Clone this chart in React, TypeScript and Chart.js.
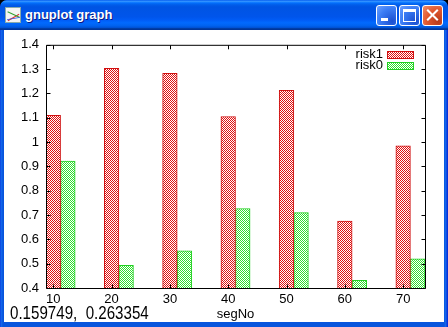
import React, { useEffect, useRef } from "react";
import { Chart, registerables } from "chart.js";

Chart.register(...registerables);

// ---- data ----
const categories = [10, 20, 30, 40, 50, 60, 70];
const risk1 = [1.11, 1.303, 1.283, 1.105, 1.213, 0.675, 0.985];
const risk0 = [0.922, 0.493, 0.553, 0.727, 0.71, 0.432, 0.52];
const seriesLabels = ["risk1", "risk0"];
const yTicks = [0.4, 0.5, 0.6, 0.7, 0.8, 0.9, 1.0, 1.1, 1.2, 1.3, 1.4];
const boxWidth = 2.5;
const xTitle = "segNo";
const windowTitle = "gnuplot graph";
const statusText = "0.159749,  0.263354";

const RED = "#e01010";
const GREEN = "#30e030";
const RED_BORDER = "#d01010";
const GREEN_BORDER = "#20d020";
const FONT = "'Liberation Sans', Arial, sans-serif";

function makePattern(ctx: CanvasRenderingContext2D, color: string) {
  const c = document.createElement("canvas");
  c.width = 2;
  c.height = 2;
  const g = c.getContext("2d")!;
  g.fillStyle = "#ffffff";
  g.fillRect(0, 0, 2, 2);
  g.fillStyle = color;
  g.fillRect(0, 0, 1, 1);
  g.fillRect(1, 1, 1, 1);
  return ctx.createPattern(c, "repeat")!;
}

const framePlugin = {
  id: "gnuframe",
  afterDatasetsDraw(chart: any) {
    const { ctx, chartArea: a } = chart;
    const xs = chart.scales.x;
    const ys = chart.scales.y;
    const TL = 4;
    ctx.save();
    ctx.strokeStyle = "#000";
    ctx.lineWidth = 1;
    const L = a.left + 0.5;
    const R = a.right + 0.5;
    const T = a.top + 0.5;
    const B = a.bottom + 0.5;
    ctx.beginPath();
    ctx.rect(L, T, R - L, B - T);
    categories.forEach((v) => {
      const px = Math.round(xs.getPixelForValue(v)) + 0.5;
      ctx.moveTo(px, B);
      ctx.lineTo(px, B - TL);
      ctx.moveTo(px, T);
      ctx.lineTo(px, T + TL);
    });
    yTicks.forEach((v) => {
      const py = Math.round(ys.getPixelForValue(v)) + 0.5;
      ctx.moveTo(L, py);
      ctx.lineTo(L + TL, py);
      ctx.moveTo(R, py);
      ctx.lineTo(R - TL, py);
    });
    ctx.stroke();

    // legend (top right, inside)
    ctx.font = `13px ${FONT}`;
    ctx.textAlign = "right";
    ctx.textBaseline = "middle";
    chart.data.datasets.forEach((ds: any, i: number) => {
      const cy = a.top + 10 + i * 11;
      ctx.fillStyle = "#000";
      ctx.fillText(ds.label, a.right - 42, cy);
      const bx = a.right - 38;
      const bw = 27;
      const by = Math.round(cy - 4);
      ctx.fillStyle = ds.backgroundColor;
      ctx.fillRect(bx, by, bw, 7);
      ctx.strokeStyle = ds.borderColor;
      ctx.strokeRect(bx + 0.5, by + 0.5, bw - 1, 7);
    });
    ctx.restore();
  },
};

function GnuplotChart() {
  const ref = useRef<HTMLCanvasElement>(null);
  useEffect(() => {
    const canvas = ref.current!;
    const ctx = canvas.getContext("2d")!;
    const redPat = makePattern(ctx, RED);
    const greenPat = makePattern(ctx, GREEN);
    const chart = new Chart(canvas, {
      type: "bar",
      data: {
        datasets: [
          {
            label: seriesLabels[0],
            data: categories.map((c, i) => ({ x: c, y: risk1[i] })),
            backgroundColor: redPat as any,
            borderColor: RED_BORDER,
            borderWidth: 1,
            borderSkipped: false,
            grouped: false,
            barPercentage: 1,
            categoryPercentage: 1,
          },
          {
            label: seriesLabels[1],
            data: categories.map((c, i) => ({ x: c + boxWidth, y: risk0[i] })),
            backgroundColor: greenPat as any,
            borderColor: GREEN_BORDER,
            borderWidth: 1,
            borderSkipped: false,
            grouped: false,
            barPercentage: 1,
            categoryPercentage: 1,
          },
        ],
      },
      options: {
        animation: false,
        responsive: false,
        events: [],
        layout: { padding: { left: 0, right: 19, top: 10, bottom: 0 } },
        plugins: { legend: { display: false }, tooltip: { enabled: false } },
        scales: {
          x: {
            type: "linear",
            offset: false,
            min: categories[0] - boxWidth / 2,
            max: categories[categories.length - 1] + boxWidth * 1.5,
            grid: { display: false, drawTicks: false, offset: false },
            border: { display: false },
            afterBuildTicks: (s: any) => {
              s.ticks = categories.map((v) => ({ value: v }));
            },
            afterFit: (s: any) => {
              s.height = 34;
            },
            ticks: {
              color: "#000",
              font: { family: FONT, size: 13 },
              padding: 4,
              maxRotation: 0,
              autoSkip: false,
              callback: (v: any) => String(v),
            },
            title: {
              display: true,
              text: xTitle,
              color: "#000",
              font: { family: FONT, size: 13 },
              padding: 0,
            },
          },
          y: {
            min: yTicks[0],
            max: yTicks[yTicks.length - 1],
            grid: { display: false, drawTicks: false },
            border: { display: false },
            afterBuildTicks: (s: any) => {
              s.ticks = yTicks.map((v) => ({ value: v }));
            },
            afterFit: (s: any) => {
              s.width = 42;
            },
            ticks: {
              color: "#000",
              font: { family: FONT, size: 13 },
              padding: 7,
              callback: (v: any) => String(Math.round(Number(v) * 10) / 10),
            },
          },
        },
      },
      plugins: [framePlugin],
    } as any);
    return () => chart.destroy();
  }, []);
  return <canvas ref={ref} width={440} height={292} style={{ display: "block" }} />;
}

const btnBase: React.CSSProperties = {
  position: "absolute",
  top: 5,
  width: 21,
  height: 21,
  boxSizing: "border-box",
  border: "1px solid #fff",
  borderRadius: 3,
};

export default function App() {
  useEffect(() => {
    document.body.style.margin = "0";
    document.body.style.background = "#000";
  }, []);
  return (
    <div
      style={{
        position: "relative",
        width: 448,
        height: 327,
        background: "linear-gradient(to right, #0831d9 0px, #166aee 1px, #0855dd 3px, #0855dd 444px, #166aee 446px, #0831d9 447px)",
        borderRadius: "7px 7px 0 0",
        overflow: "hidden",
        fontFamily: FONT,
      }}
    >
      <div
        style={{
          position: "absolute",
          left: 0,
          top: 0,
          width: 448,
          height: 30,
          background:
            "linear-gradient(to bottom, #0058ee 0%, #3593ff 4%, #288eff 6%, #127dff 8%, #036ffc 10%, #0262ee 14%, #0057e5 20%, #0054e3 24%, #0055eb 56%, #005bf5 66%, #026afe 76%, #0062ef 86%, #0052d6 92%, #0040ab 94%, #003092 100%)",
          borderRadius: "7px 7px 0 0",
        }}
      >
        <div
          style={{
            position: "absolute",
            left: 5,
            top: 7,
            width: 16,
            height: 16,
            background: "#f4f4f4",
            border: "1px solid #8aa",
            boxSizing: "border-box",
            overflow: "hidden",
          }}
        >
          <div style={{ position: "absolute", left: 1, top: 9, width: 13, height: 1, background: "#e03030", transform: "rotate(-30deg)" }} />
          <div style={{ position: "absolute", left: 1, top: 6, width: 13, height: 1, background: "#30a030", transform: "rotate(25deg)" }} />
          <div style={{ position: "absolute", left: 1, top: 10, width: 13, height: 1, background: "#3050e0", transform: "rotate(-10deg)" }} />
        </div>
        <div
          style={{
            position: "absolute",
            left: 25,
            top: 7,
            fontSize: 13,
            lineHeight: "15px",
            fontWeight: "bold",
            color: "#fff",
            textShadow: "1px 1px #0a1883",
            whiteSpace: "nowrap",
          }}
        >
          {windowTitle}
        </div>
        <div style={{ ...btnBase, left: 376, background: "radial-gradient(circle at 80% 80%, #1b4fd0 0%, #3c7df5 60%, #6fa2ff 100%)" }}>
          <div style={{ position: "absolute", left: 4, top: 12, width: 7, height: 3, background: "#fff" }} />
        </div>
        <div style={{ ...btnBase, left: 399, background: "radial-gradient(circle at 80% 80%, #1b4fd0 0%, #3c7df5 60%, #6fa2ff 100%)" }}>
          <div style={{ position: "absolute", left: 3, top: 3, width: 13, height: 13, boxSizing: "border-box", borderStyle: "solid", borderColor: "#fff", borderWidth: "3px 1px 1px 1px" }} />
        </div>
        <div style={{ ...btnBase, left: 422, background: "radial-gradient(circle at 80% 80%, #b83a1a 0%, #e2582f 55%, #f08e6c 100%)" }}>
          <div style={{ position: "absolute", left: 2, top: 8, width: 15, height: 2, background: "#fff", transform: "rotate(45deg)" }} />
          <div style={{ position: "absolute", left: 2, top: 8, width: 15, height: 2, background: "#fff", transform: "rotate(-45deg)" }} />
        </div>
      </div>
      <div
        style={{
          position: "absolute",
          left: 4,
          top: 30,
          width: 440,
          height: 292,
          background: "#fff",
          overflow: "hidden",
        }}
      >
        <GnuplotChart />
        <div
          style={{
            position: "absolute",
            left: 6,
            top: 274,
            fontFamily: FONT,
            fontSize: 18,
            lineHeight: "18px",
            color: "#000",
            whiteSpace: "pre",
            transform: "scaleX(0.84)",
            transformOrigin: "0 0",
          }}
        >
          {statusText}
        </div>
      </div>
    </div>
  );
}
